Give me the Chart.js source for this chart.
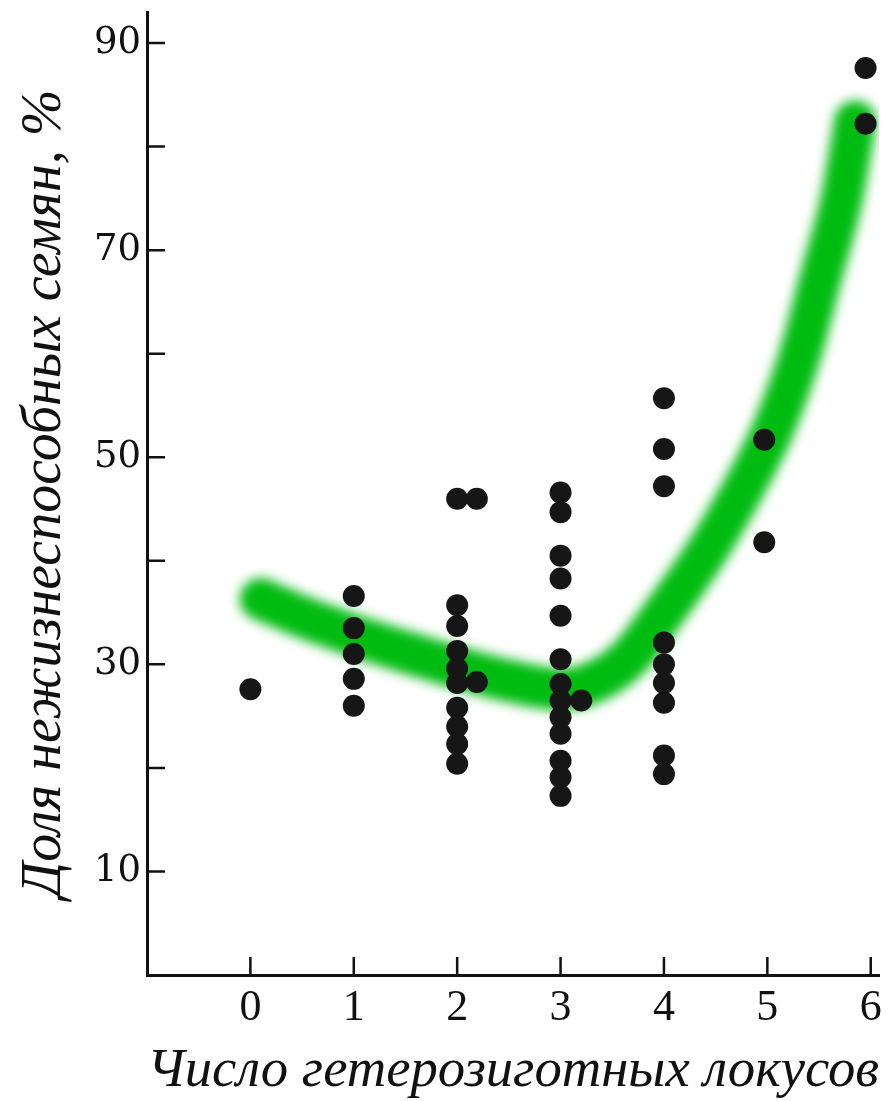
<!DOCTYPE html>
<html>
<head>
<meta charset="utf-8">
<script src="https://cdn.jsdelivr.net/npm/chart.js@4/dist/chart.umd.min.js"></script>
<style>
  html, body { margin: 0; padding: 0; background: #fff; }
  #wrap { width: 890px; height: 1101px; position: relative; }
</style>
</head>
<body>
<div id="wrap"><canvas id="chart"></canvas></div>
<script>
// points, one list per column of heterozygous loci
const col0 = [27.6];
const col1 = [36.6, 33.5, 31.0, 28.6, 26.0];
const col2 = [46.0, 35.7, 33.7, 31.3, 29.6, 28.2, 25.8, 24.0, 22.3, 20.4];
const col2shifted = [46.0, 28.3];
const col3 = [46.6, 44.7, 40.5, 38.3, 34.7, 30.5, 28.1, 26.5, 24.9, 23.3, 20.7, 19.1, 17.3];
const col3shifted = [26.5];
const col4 = [55.7, 50.8, 47.2, 32.1, 30.0, 28.2, 26.3, 21.2, 19.4];
const col5 = [51.7, 41.8];
const col6 = [87.6, 82.2];

// x position of every column above (two small clusters sit a bit right of 2 and 3)
const columnX = [0, 1, 2, 2.19, 3, 3.2, 4, 4.97, 5.95];
const columns = [col0, col1, col2, col2shifted, col3, col3shifted, col4, col5, col6];

// hand-drawn green trend
const curveX = [0.1, 0.5, 1, 1.5, 2, 2.5, 3, 3.3, 3.65, 4, 4.45, 4.85, 5.06, 5.32, 5.52, 5.72, 5.85];
const curveY = [36.3, 34.6, 32.8, 31.2, 29.7, 28.4, 27.6, 28.2, 30.5, 35.0, 41.5, 48.5, 52.8, 60, 67.5, 75, 82.4];

const xTicks = [0, 1, 2, 3, 4, 5, 6];
const yTicks = [0, 10, 20, 30, 40, 50, 60, 70, 80, 90];
const yLabelled = [10, 30, 50, 70, 90];

const points = [];
columns.forEach((col, i) => col.forEach(v => points.push({ x: columnX[i], y: v })));
const curve = curveX.map((x, i) => ({ x: x, y: curveY[i] }));

// soften the green band
const bandBlur = {
  id: 'bandBlur',
  beforeDatasetDraw(chart, args) {
    if (args.index === 0) {
      chart.ctx.save();
      chart.ctx.filter = 'blur(6px)';
    }
  },
  afterDatasetDraw(chart, args) {
    if (args.index === 0) chart.ctx.restore();
  }
};

// tick marks point into the plot
const innerTicks = {
  id: 'innerTicks',
  afterDraw(chart) {
    const { ctx, scales: { x, y } } = chart;
    ctx.save();
    ctx.strokeStyle = '#111';
    ctx.lineWidth = 2.5;
    ctx.beginPath();
    x.ticks.forEach(t => {
      const px = x.getPixelForValue(t.value);
      ctx.moveTo(px, x.top);
      ctx.lineTo(px, x.top - 18);
    });
    y.ticks.forEach(t => {
      if (t.value === 0) return;
      const py = y.getPixelForValue(t.value);
      ctx.moveTo(y.right, py);
      ctx.lineTo(y.right + 18, py);
    });
    ctx.stroke();
    ctx.restore();
  }
};

new Chart(document.getElementById('chart'), {
  type: 'scatter',
  data: {
    datasets: [
      {
        type: 'line',
        data: curve,
        borderColor: 'rgb(0, 188, 16)',
        borderWidth: 42,
        borderCapStyle: 'round',
        borderJoinStyle: 'round',
        cubicInterpolationMode: 'monotone',
        pointRadius: 0,
        fill: false,
        order: 2
      },
      {
        data: points,
        backgroundColor: '#161616',
        borderWidth: 0,
        pointRadius: 11,
        order: 1
      }
    ]
  },
  options: {
    responsive: true,
    maintainAspectRatio: false,
    animation: false,
    layout: { padding: { top: 12, right: 10, left: 0, bottom: 0 } },
    plugins: { legend: { display: false }, tooltip: { enabled: false } },
    scales: {
      x: {
        type: 'linear',
        min: -1,
        max: 6.08,
        afterBuildTicks: s => { s.ticks = xTicks.map(v => ({ value: v })); },
        afterFit: s => { s.height = 126; s.paddingLeft = 0; s.paddingRight = 0; },
        grid: { display: false, drawTicks: false },
        border: { display: true, color: '#111', width: 3 },
        ticks: {
          color: '#111',
          padding: 7,
          maxRotation: 0,
          autoSkip: false,
          font: { family: 'Liberation Serif', size: 44 }
        },
        title: {
          display: true,
          text: 'Число гетерозиготных локусов',
          color: '#111',
          padding: { top: 0, bottom: 2 },
          font: { family: 'Liberation Serif', style: 'italic', size: 55, lineHeight: 1 }
        }
      },
      y: {
        min: 0,
        max: 93,
        afterBuildTicks: s => { s.ticks = yTicks.map(v => ({ value: v })); },
        afterFit: s => { s.width = 147; s.paddingTop = 0; s.paddingBottom = 0; },
        grid: { display: false, drawTicks: false },
        border: { display: true, color: '#111', width: 3 },
        ticks: {
          color: '#111',
          padding: 6,
          autoSkip: false,
          callback: v => (yLabelled.includes(v) ? String(v) : ''),
          font: { family: 'DejaVu Serif', size: 37 }
        },
        title: {
          display: true,
          text: 'Доля нежизнеспособных семян, %',
          color: '#111',
          padding: { top: 17, bottom: 0 },
          font: { family: 'Liberation Serif', style: 'italic', size: 56, lineHeight: 1 }
        }
      }
    }
  },
  plugins: [bandBlur, innerTicks]
});
</script>
</body>
</html>
